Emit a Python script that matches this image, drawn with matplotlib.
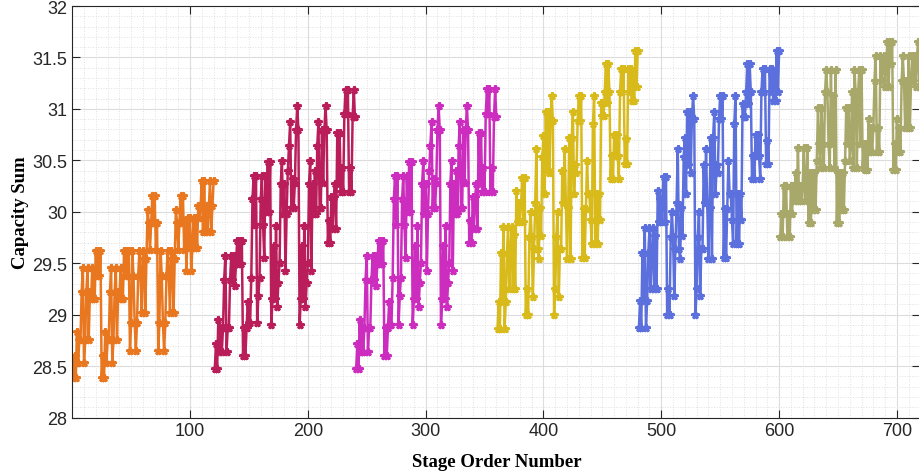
import numpy as np
import matplotlib
matplotlib.use("Agg")
import matplotlib.pyplot as plt
from matplotlib.ticker import MultipleLocator

# capacity sums, 6 groups of 120 stage orders each
orange = [
    28.38, 28.60, 28.38, 28.83, 28.53, 28.75,
    28.75, 29.22, 29.45, 28.53, 28.75, 29.22,
    29.45, 28.75, 29.22, 29.15, 29.45, 29.15,
    29.15, 29.62, 29.38, 29.62, 29.38, 29.62,
    28.38, 28.60, 28.38, 28.83, 28.53, 28.75,
    28.75, 29.22, 29.45, 28.53, 28.75, 29.22,
    29.45, 28.75, 29.22, 29.15, 29.45, 29.15,
    29.15, 29.62, 29.38, 29.62, 29.38, 29.62,
    28.65, 28.92, 29.62, 29.38, 28.92, 28.65,
    28.92, 29.38, 29.62, 29.38, 29.02, 29.62,
    29.54, 29.02, 29.54, 30.02, 29.89, 29.63,
    29.89, 30.15, 29.89, 30.15, 29.63, 29.89,
    28.65, 28.92, 29.62, 29.38, 28.92, 28.65,
    28.92, 29.38, 29.62, 29.38, 29.02, 29.62,
    29.54, 29.02, 29.54, 30.02, 29.89, 29.63,
    29.89, 30.15, 29.89, 30.15, 29.63, 29.89,
    29.42, 29.94, 29.65, 29.94, 29.42, 29.65,
    29.94, 29.65, 29.94, 29.65, 30.06, 29.94,
    30.06, 30.30, 29.80, 30.30, 29.80, 30.06,
    29.80, 30.06, 30.30, 29.80, 30.06, 30.30,
]

crimson = [
    28.47, 28.71, 28.47, 28.95, 28.64, 28.87,
    28.64, 28.87, 29.34, 29.57, 28.64, 28.87,
    28.87, 29.34, 29.57, 29.34, 29.57, 29.28,
    29.49, 29.72, 29.49, 29.72, 29.49, 29.72,
    28.60, 28.87, 28.60, 28.87, 29.12, 28.92,
    28.92, 29.36, 30.12, 30.35, 29.87, 30.35,
    28.92, 29.18, 29.36, 30.12, 30.35, 29.87,
    29.55, 30.35, 30.00, 30.48, 30.00, 30.48,
    28.90, 29.15, 29.67, 29.15, 29.86, 29.07,
    29.31, 29.50, 30.27, 30.49, 29.98, 30.27,
    29.42, 29.98, 30.40, 30.64, 30.87, 30.04,
    30.32, 30.04, 30.28, 30.79, 31.03, 30.79,
    28.90, 29.15, 29.67, 29.15, 29.86, 29.07,
    29.31, 29.50, 30.27, 30.49, 29.42, 30.27,
    29.98, 30.40, 29.98, 30.64, 30.87, 30.04,
    30.04, 30.79, 30.28, 30.79, 31.03, 30.79,
    29.70, 29.91, 29.70, 30.14, 29.83, 30.14,
    30.27, 29.83, 30.77, 30.27, 30.77, 30.19,
    30.43, 30.19, 30.95, 31.18, 30.95, 31.18,
    30.19, 30.43, 30.19, 30.92, 31.18, 30.92,
]

magenta = [
    28.47, 28.71, 28.47, 28.95, 28.64, 28.87,
    28.64, 28.87, 29.34, 29.57, 28.64, 28.87,
    28.87, 29.34, 29.57, 29.34, 29.57, 29.28,
    29.49, 29.72, 29.49, 29.72, 29.49, 29.72,
    28.60, 28.87, 28.60, 28.87, 29.12, 28.90,
    28.90, 29.36, 30.12, 30.35, 29.87, 30.35,
    28.90, 29.18, 29.36, 30.12, 30.35, 29.87,
    29.55, 30.35, 30.00, 30.48, 30.00, 30.48,
    28.90, 29.15, 29.67, 29.15, 29.86, 29.07,
    29.31, 29.50, 30.27, 30.49, 29.98, 30.27,
    29.42, 29.98, 30.40, 30.64, 30.87, 30.04,
    30.32, 30.04, 30.28, 30.79, 31.03, 30.79,
    28.90, 29.15, 29.67, 29.15, 29.86, 29.07,
    29.31, 29.50, 30.27, 30.49, 29.42, 30.27,
    29.98, 30.40, 29.98, 30.64, 30.87, 30.04,
    30.04, 30.79, 30.28, 30.79, 31.03, 30.79,
    29.70, 29.91, 29.70, 30.14, 29.83, 30.14,
    30.27, 29.83, 30.77, 30.27, 30.77, 30.19,
    30.43, 30.19, 30.95, 31.19, 30.95, 31.19,
    30.19, 30.43, 30.19, 30.92, 31.19, 30.92,
]

gold = [
    28.86, 29.12, 28.86, 29.60, 29.12, 29.85,
    28.86, 29.12, 29.60, 29.85, 29.25, 29.60,
    29.85, 29.25, 29.77, 29.25, 30.20, 29.90,
    30.09, 29.90, 30.09, 30.33, 29.90, 30.33,
    29.00, 29.25, 29.00, 29.75, 30.00, 29.75,
    29.17, 29.64, 30.09, 30.61, 29.64, 29.54,
    30.04, 29.76, 30.53, 30.74, 30.17, 30.97,
    30.41, 30.97, 30.38, 30.88, 31.13, 30.88,
    29.00, 29.25, 29.75, 30.00, 29.17, 29.64,
    29.64, 30.40, 30.09, 30.61, 30.09, 29.54,
    30.04, 30.72, 29.54, 30.72, 30.97, 30.17,
    30.45, 30.38, 30.88, 31.13, 30.88, 31.13,
    29.55, 30.03, 29.55, 30.03, 30.49, 30.17,
    30.17, 29.92, 29.69, 30.85, 31.13, 29.69,
    30.17, 29.69, 30.17, 29.92, 31.06, 30.93,
    30.93, 31.16, 31.44, 31.06, 31.44, 31.16,
    30.32, 30.54, 30.32, 30.75, 30.54, 30.75,
    30.54, 30.32, 31.16, 31.39, 31.16, 31.39,
    30.46, 30.71, 30.46, 31.39, 31.16, 31.39,
    31.08, 31.33, 31.08, 31.56, 31.21, 31.56,
]

blue = [
    28.87, 29.13, 28.87, 29.60, 29.13, 29.84,
    28.87, 29.13, 29.60, 29.84, 29.25, 29.60,
    29.84, 29.25, 29.76, 29.25, 30.20, 29.90,
    30.12, 29.90, 30.12, 30.34, 29.90, 30.34,
    29.00, 29.25, 29.00, 29.75, 30.00, 29.75,
    29.18, 29.64, 30.09, 30.61, 29.64, 29.54,
    30.04, 29.76, 30.53, 30.72, 30.17, 30.97,
    30.45, 30.97, 30.38, 30.90, 31.13, 30.90,
    29.00, 29.25, 29.75, 30.00, 29.18, 29.64,
    29.64, 30.45, 30.09, 30.61, 30.09, 29.54,
    30.04, 30.72, 29.54, 30.72, 30.97, 30.17,
    30.45, 30.38, 30.90, 31.13, 30.90, 31.13,
    29.55, 30.03, 29.55, 30.03, 30.49, 30.17,
    30.17, 29.92, 29.69, 30.85, 31.13, 29.69,
    30.17, 29.69, 30.17, 29.92, 31.05, 30.92,
    30.92, 31.16, 31.44, 31.05, 31.44, 31.16,
    30.32, 30.54, 30.32, 30.75, 30.54, 30.75,
    30.54, 30.32, 31.16, 31.39, 31.16, 31.39,
    30.46, 30.69, 30.46, 31.39, 31.16, 31.39,
    31.08, 31.32, 31.08, 31.56, 31.16, 31.56,
]

olive = [
    29.75, 29.98, 29.75, 30.25, 29.98, 30.25,
    29.75, 29.98, 29.75, 30.25, 29.98, 30.25,
    30.10, 30.38, 30.10, 30.62, 30.10, 30.25,
    30.10, 30.25, 30.62, 30.10, 30.25, 30.62,
    29.89, 30.38, 29.89, 30.38, 30.02, 30.38,
    30.02, 30.49, 31.01, 30.66, 30.43, 31.01,
    30.66, 30.43, 31.16, 31.38, 31.16, 30.66,
    30.43, 31.38, 30.66, 31.13, 30.43, 31.38,
    29.89, 30.38, 29.89, 30.38, 30.02, 30.38,
    30.02, 30.49, 31.01, 30.66, 31.01, 30.49,
    30.66, 31.16, 30.43, 31.38, 31.16, 30.43,
    31.13, 31.38, 30.66, 31.38, 30.43, 30.66,
    30.41, 30.66, 30.41, 30.90, 30.58, 30.81,
    30.58, 30.81, 31.27, 31.51, 30.58, 30.81,
    30.58, 31.51, 31.27, 31.44, 31.51, 31.21,
    31.44, 31.65, 31.21, 31.65, 31.44, 31.65,
    30.41, 30.66, 30.41, 30.90, 30.58, 30.81,
    30.58, 31.27, 31.51, 31.27, 30.81, 31.27,
    30.81, 31.51, 30.81, 31.27, 31.51, 31.27,
    31.51, 31.21, 31.51, 31.65, 31.21, 31.65,
]

series = [orange, crimson, magenta, gold, blue, olive]
colors = ["#E8771F", "#B91E5B", "#CC2DBE", "#D9BA1B", "#5B70DD", "#A9A86B"]

fig = plt.figure(figsize=(9.2, 4.77), dpi=100)
ax = fig.add_axes([0.0785, 0.1226, 0.922, 0.8627])

start = 1
for vals, color in zip(series, colors):
    x = np.arange(start, start + len(vals))
    ax.plot(x, vals, color=color, linewidth=1.8, marker="*",
            markersize=5.5, markeredgewidth=2)
    start += len(vals)

ax.set_xlim(0, 720)
ax.set_ylim(28, 32)
ax.xaxis.set_minor_locator(MultipleLocator(10))
ax.yaxis.set_minor_locator(MultipleLocator(0.1))
ax.set_xticks([100, 200, 300, 400, 500, 600, 700])
ax.set_yticks([28, 28.5, 29, 29.5, 30, 30.5, 31, 31.5, 32])
ax.set_yticklabels(["28", "28.5", "29", "29.5", "30", "30.5", "31", "31.5", "32"])

ax.grid(True, which="major", color="#dcdcdc", linewidth=0.8)
ax.grid(True, which="minor", color="#e0e0e0", linewidth=0.7, linestyle=":")
ax.set_axisbelow(True)

ax.tick_params(which="major", direction="in", length=6, width=0.8,
               top=True, right=True, colors="#262626", labelsize=13)
ax.tick_params(which="minor", length=0)
for lab in ax.get_xticklabels() + ax.get_yticklabels():
    lab.set_fontfamily("Liberation Sans")
for sp in ax.spines.values():
    sp.set_color("#262626")
    sp.set_linewidth(0.8)

ax.set_xlabel("Stage Order Number", fontfamily="Liberation Serif",
              fontweight="bold", fontsize=13.5, labelpad=10)
ax.set_ylabel("Capacity Sum", fontfamily="Liberation Serif",
              fontweight="bold", fontsize=13.5, labelpad=2.5)

fig.savefig("out.png", dpi=100)
